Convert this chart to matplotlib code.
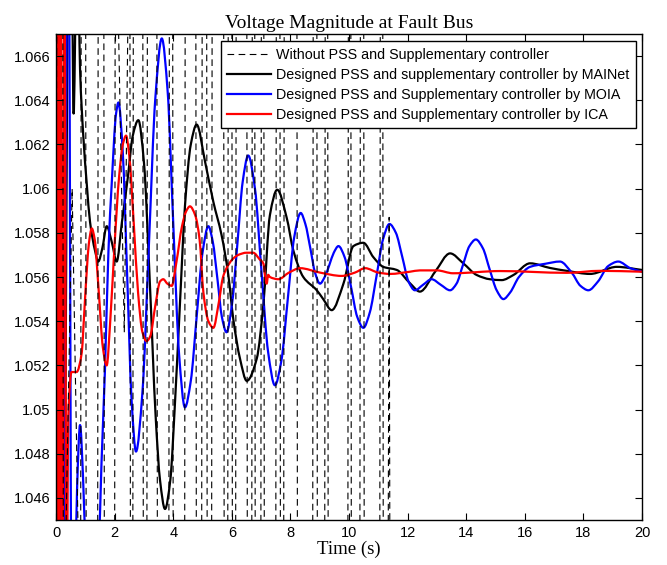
import matplotlib
matplotlib.use("Agg")
import numpy as np
from matplotlib import pyplot as plt
from matplotlib.path import Path
from matplotlib.patches import PathPatch
from matplotlib.lines import Line2D
from matplotlib.ticker import FuncFormatter

# ---- data (time in s, voltage in pu) ----

# undamped case: times where the big swing sweeps through the visible window
nopss_cross = [0.24, 0.85, 1.02, 1.43, 1.64, 2.01, 2.53, 2.63, 2.97, 3.11,
               3.45, 3.86, 3.99, 4.40, 4.78, 4.98, 5.15, 5.32, 5.73, 5.87,
               6.01, 6.14, 6.52, 6.69, 6.79, 7.00, 7.10, 7.51, 7.65, 7.78,
               8.23, 8.77, 8.91, 9.18, 9.28, 9.97, 10.07, 10.38, 10.51,
               11.06, 11.16]
# local turning points of the undamped case that stay inside the window
nopss_bump_t = [0.55, 2.33, 11.34, 11.37, 11.40]
nopss_bump_v = [1.0600, 1.0535, 1.0450, 1.0587, 1.0400]

mainet_t = [0.0, 0.03, 0.12, 0.25, 0.45, 0.55, 0.60, 0.68, 0.74, 0.82,
            0.93, 1.05, 1.16, 1.33, 1.44, 1.58, 1.73, 1.90, 2.07, 2.25,
            2.45, 2.62, 2.81, 3.0, 3.2, 3.4, 3.55, 3.72, 3.9, 4.06,
            4.23, 4.4, 4.6, 4.80, 5.09, 5.37, 5.65, 5.88, 6.05, 6.28,
            6.51, 6.85, 7.08, 7.30, 7.55, 7.87, 8.10, 8.44, 8.90, 9.12,
            9.41, 9.81, 10.15, 10.49, 10.83, 11.17, 11.63, 12.08, 12.42, 12.94,
            13.45, 13.90, 14.36, 14.81, 15.21, 15.61, 16.18, 16.86, 17.43, 18.23,
            19.14, 20.0]
mainet_v = [1.0562, 1.0400, 1.0750, 1.0400, 1.0750, 1.0690, 1.0634, 1.0690, 1.0710, 1.0654,
            1.0624, 1.0602, 1.0585, 1.0572, 1.0567, 1.0573, 1.0583, 1.0576, 1.0567, 1.0585,
            1.0605, 1.0624, 1.0631, 1.0612, 1.0558, 1.0497, 1.0468, 1.0455, 1.0468, 1.0503,
            1.0548, 1.0592, 1.0620, 1.0629, 1.0612, 1.0594, 1.0579, 1.0561, 1.0541, 1.0523,
            1.0513, 1.0523, 1.0548, 1.0588, 1.05995, 1.0587, 1.0572, 1.0560, 1.0554, 1.0550,
            1.0545, 1.0557, 1.0574, 1.05755, 1.0569, 1.05646, 1.05632, 1.05572, 1.05534, 1.05624,
            1.05707, 1.05662, 1.05609, 1.0559, 1.05586, 1.05609, 1.05662, 1.05641, 1.05628, 1.05614,
            1.05646, 1.05632]

moia_t = [0.0, 0.03, 0.2, 0.42, 0.55, 0.62, 0.72, 0.82, 0.92, 1.0,
          1.2, 1.45, 1.55, 1.67, 1.79, 1.90, 2.05, 2.13, 2.28, 2.43,
          2.58, 2.73, 2.95, 3.17, 3.39, 3.61, 3.81, 4.0, 4.20, 4.40,
          4.6, 4.8, 5.0, 5.20, 5.35, 5.51, 5.66, 5.82, 6.0, 6.19,
          6.37, 6.56, 6.79, 7.01, 7.24, 7.47, 7.69, 7.91, 8.13, 8.35,
          8.51, 8.68, 8.84, 9.01, 9.17, 9.33, 9.48, 9.64, 9.85, 10.07,
          10.28, 10.49, 10.71, 10.94, 11.16, 11.38, 11.6, 11.82, 12.03, 12.25,
          12.53, 12.82, 13.13, 13.45, 13.67, 13.89, 14.11, 14.33, 14.57, 14.8,
          15.04, 15.27, 15.5, 15.8, 16.18, 16.7, 17.2, 17.6, 17.9, 18.17,
          18.5, 18.85, 19.19, 19.6, 20.0]
moia_v = [1.0560, 1.0750, 1.0350, 1.0750, 1.0350, 1.0400, 1.0465, 1.0493, 1.0470, 1.0440,
          1.0400, 1.0435, 1.0475, 1.0518, 1.0572, 1.0602, 1.0634, 1.0639, 1.0616, 1.0560,
          1.0504, 1.0481, 1.0508, 1.05745, 1.0641, 1.0668, 1.0644, 1.05845, 1.0525, 1.0501,
          1.0513, 1.0542, 1.0571, 1.0583, 1.0576, 1.0559, 1.0542, 1.0535, 1.0547, 1.0575,
          1.0603, 1.0615, 1.0600, 1.0563, 1.0526, 1.0511, 1.0522, 1.0550, 1.0578, 1.0589,
          1.0584, 1.0573, 1.0562, 1.0557, 1.0560, 1.05655, 1.0571, 1.0574, 1.0569, 1.05555,
          1.0542, 1.0537, 1.0544, 1.05605, 1.0577, 1.0584, 1.0580, 1.0569, 1.0558, 1.0554,
          1.05565, 1.0559, 1.05565, 1.0554, 1.0557, 1.05655, 1.0574, 1.0577, 1.0573, 1.05635,
          1.0554, 1.0550, 1.0553, 1.0560, 1.05646, 1.0566, 1.0567, 1.0562, 1.0556, 1.0554,
          1.0558, 1.0565, 1.0567, 1.0564, 1.05624]

ica_t = [0.0, 0.04, 0.09, 0.15, 0.21, 0.28, 0.36, 0.42, 0.53, 0.70,
         0.88, 0.93, 0.99, 1.05, 1.12, 1.22, 1.32, 1.45, 1.6, 1.73,
         1.85, 2.0, 2.15, 2.28, 2.39, 2.5, 2.65, 2.8, 2.95, 3.09,
         3.21, 3.4, 3.55, 3.66, 3.8, 3.95, 4.1, 4.3, 4.45, 4.57,
         4.75, 4.9, 5.03, 5.2, 5.37, 5.55, 5.7, 5.82, 6.02, 6.22,
         6.5, 6.73, 6.95, 7.08, 7.14, 7.19, 7.24, 7.30, 7.59, 7.95,
         8.33, 9.01, 9.75, 10.2, 10.55, 11.0, 11.4, 12.08, 12.42, 13.0,
         13.55, 15.15, 17.43, 18.57, 20.0]
ica_v = [1.0560, 1.0750, 1.0350, 1.0750, 1.0350, 1.0750, 1.0400, 1.0497, 1.0517, 1.0517,
         1.0526, 1.0536, 1.0550, 1.0563, 1.0575, 1.0582, 1.0577, 1.0555, 1.0528, 1.0520,
         1.0540, 1.0575, 1.0605, 1.0620, 1.0624, 1.0615, 1.0585, 1.0553, 1.0535, 1.0531,
         1.0533, 1.0548, 1.0558, 1.0559, 1.0557, 1.0556, 1.0566, 1.0583, 1.0590, 1.0592,
         1.0588, 1.0577, 1.0553, 1.0540, 1.0537, 1.0548, 1.0560, 1.0564, 1.0568, 1.0570,
         1.0571, 1.0571, 1.0568, 1.0566, 1.0560, 1.0557, 1.0561, 1.0560, 1.0559, 1.0562,
         1.0564, 1.0562, 1.05605, 1.0562, 1.0564, 1.0562, 1.05614, 1.05624, 1.0563, 1.0563,
         1.05617, 1.05627, 1.05619, 1.05628, 1.05624]

labels = ["Without PSS and Supplementary controller",
          "Designed PSS and supplementary controller by MAINet",
          "Designed PSS and Supplementary controller by MOIA",
          "Designed PSS and Supplementary controller by ICA"]

x_ticks = list(range(0, 21, 2))
y_ticks = [1.046, 1.048, 1.05, 1.052, 1.054, 1.056, 1.058, 1.06, 1.062, 1.064, 1.066]


def smooth_path(t, v):
    # cubic Hermite (monotone tangents) through the read points, as a Bezier path
    t = np.asarray(t, float)
    v = np.asarray(v, float)
    h = np.diff(t)
    d = np.diff(v) / h
    m = np.zeros_like(v)
    for i in range(1, len(v) - 1):
        if d[i - 1] * d[i] > 0:
            w1 = 2 * h[i] + h[i - 1]
            w2 = h[i] + 2 * h[i - 1]
            m[i] = (w1 + w2) / (w1 / d[i - 1] + w2 / d[i])
    m[0], m[-1] = d[0], d[-1]
    verts = [(t[0], v[0])]
    codes = [Path.MOVETO]
    for i in range(len(t) - 1):
        verts += [(t[i] + h[i] / 3, v[i] + m[i] * h[i] / 3),
                  (t[i + 1] - h[i] / 3, v[i + 1] - m[i + 1] * h[i] / 3),
                  (t[i + 1], v[i + 1])]
        codes += [Path.CURVE4] * 3
    return Path(verts, codes)


# build the undamped trace: each crossing is a steep stroke between off-window levels
HI, LO = 1.075, 1.038
pts = [(0.0, 1.056), (0.04, HI)]
up = False
for c in nopss_cross:
    a, b = (LO, HI) if up else (HI, LO)
    pts += [(c - 0.012, a), (c + 0.012, b)]
    up = not up
pts += list(zip(nopss_bump_t, nopss_bump_v))
pts.append((11.6, LO))
pts.sort()
nopss_t = [p[0] for p in pts]
nopss_v = [p[1] for p in pts]

# ---- figure ----
fig = plt.figure(figsize=(6.67, 5.65), dpi=100)
ax = fig.add_axes([0.084, 0.0796, 0.8785, 0.8602])

ax.plot(nopss_t, nopss_v, color="black", lw=0.8, dashes=(6, 4))
series = [(mainet_t, mainet_v, "black"), (moia_t, moia_v, "blue"), (ica_t, ica_v, "red")]
for t, v, col in series:
    ax.add_patch(PathPatch(smooth_path(t, v), fill=False, edgecolor=col,
                           lw=1.6, capstyle="round", joinstyle="round"))

ax.set_xlim(0, 20)
ax.set_ylim(1.045, 1.067)
ax.set_xticks(x_ticks)
ax.set_yticks(y_ticks)
ax.yaxis.set_major_formatter(FuncFormatter(lambda v, p: "%g" % v))
ax.tick_params(direction="in", top=True, right=True, length=5, width=0.8,
               labelsize=10.5, pad=4)
for lab in ax.get_xticklabels() + ax.get_yticklabels():
    lab.set_family("Liberation Sans")
for s in ax.spines.values():
    s.set_linewidth(1.0)

ax.set_title("Voltage Magnitude at Fault Bus", family="Liberation Serif",
             fontsize=14, pad=4)
ax.set_xlabel("Time (s)", family="Liberation Serif", fontsize=13.5, labelpad=1)

handles = [Line2D([], [], color="black", lw=0.8, dashes=(6, 4)),
           Line2D([], [], color="black", lw=1.6),
           Line2D([], [], color="blue", lw=1.6),
           Line2D([], [], color="red", lw=1.6)]
leg = ax.legend(handles, labels, loc="upper right", bbox_to_anchor=(0.99, 0.985),
                prop={"family": "Liberation Sans", "size": 10.3},
                fancybox=False, framealpha=1, edgecolor="black",
                handlelength=3.1, handletextpad=0.35, borderpad=0.45,
                labelspacing=0.42, borderaxespad=0.0)
leg.get_frame().set_linewidth(1.0)

fig.savefig("out.png", dpi=100)
